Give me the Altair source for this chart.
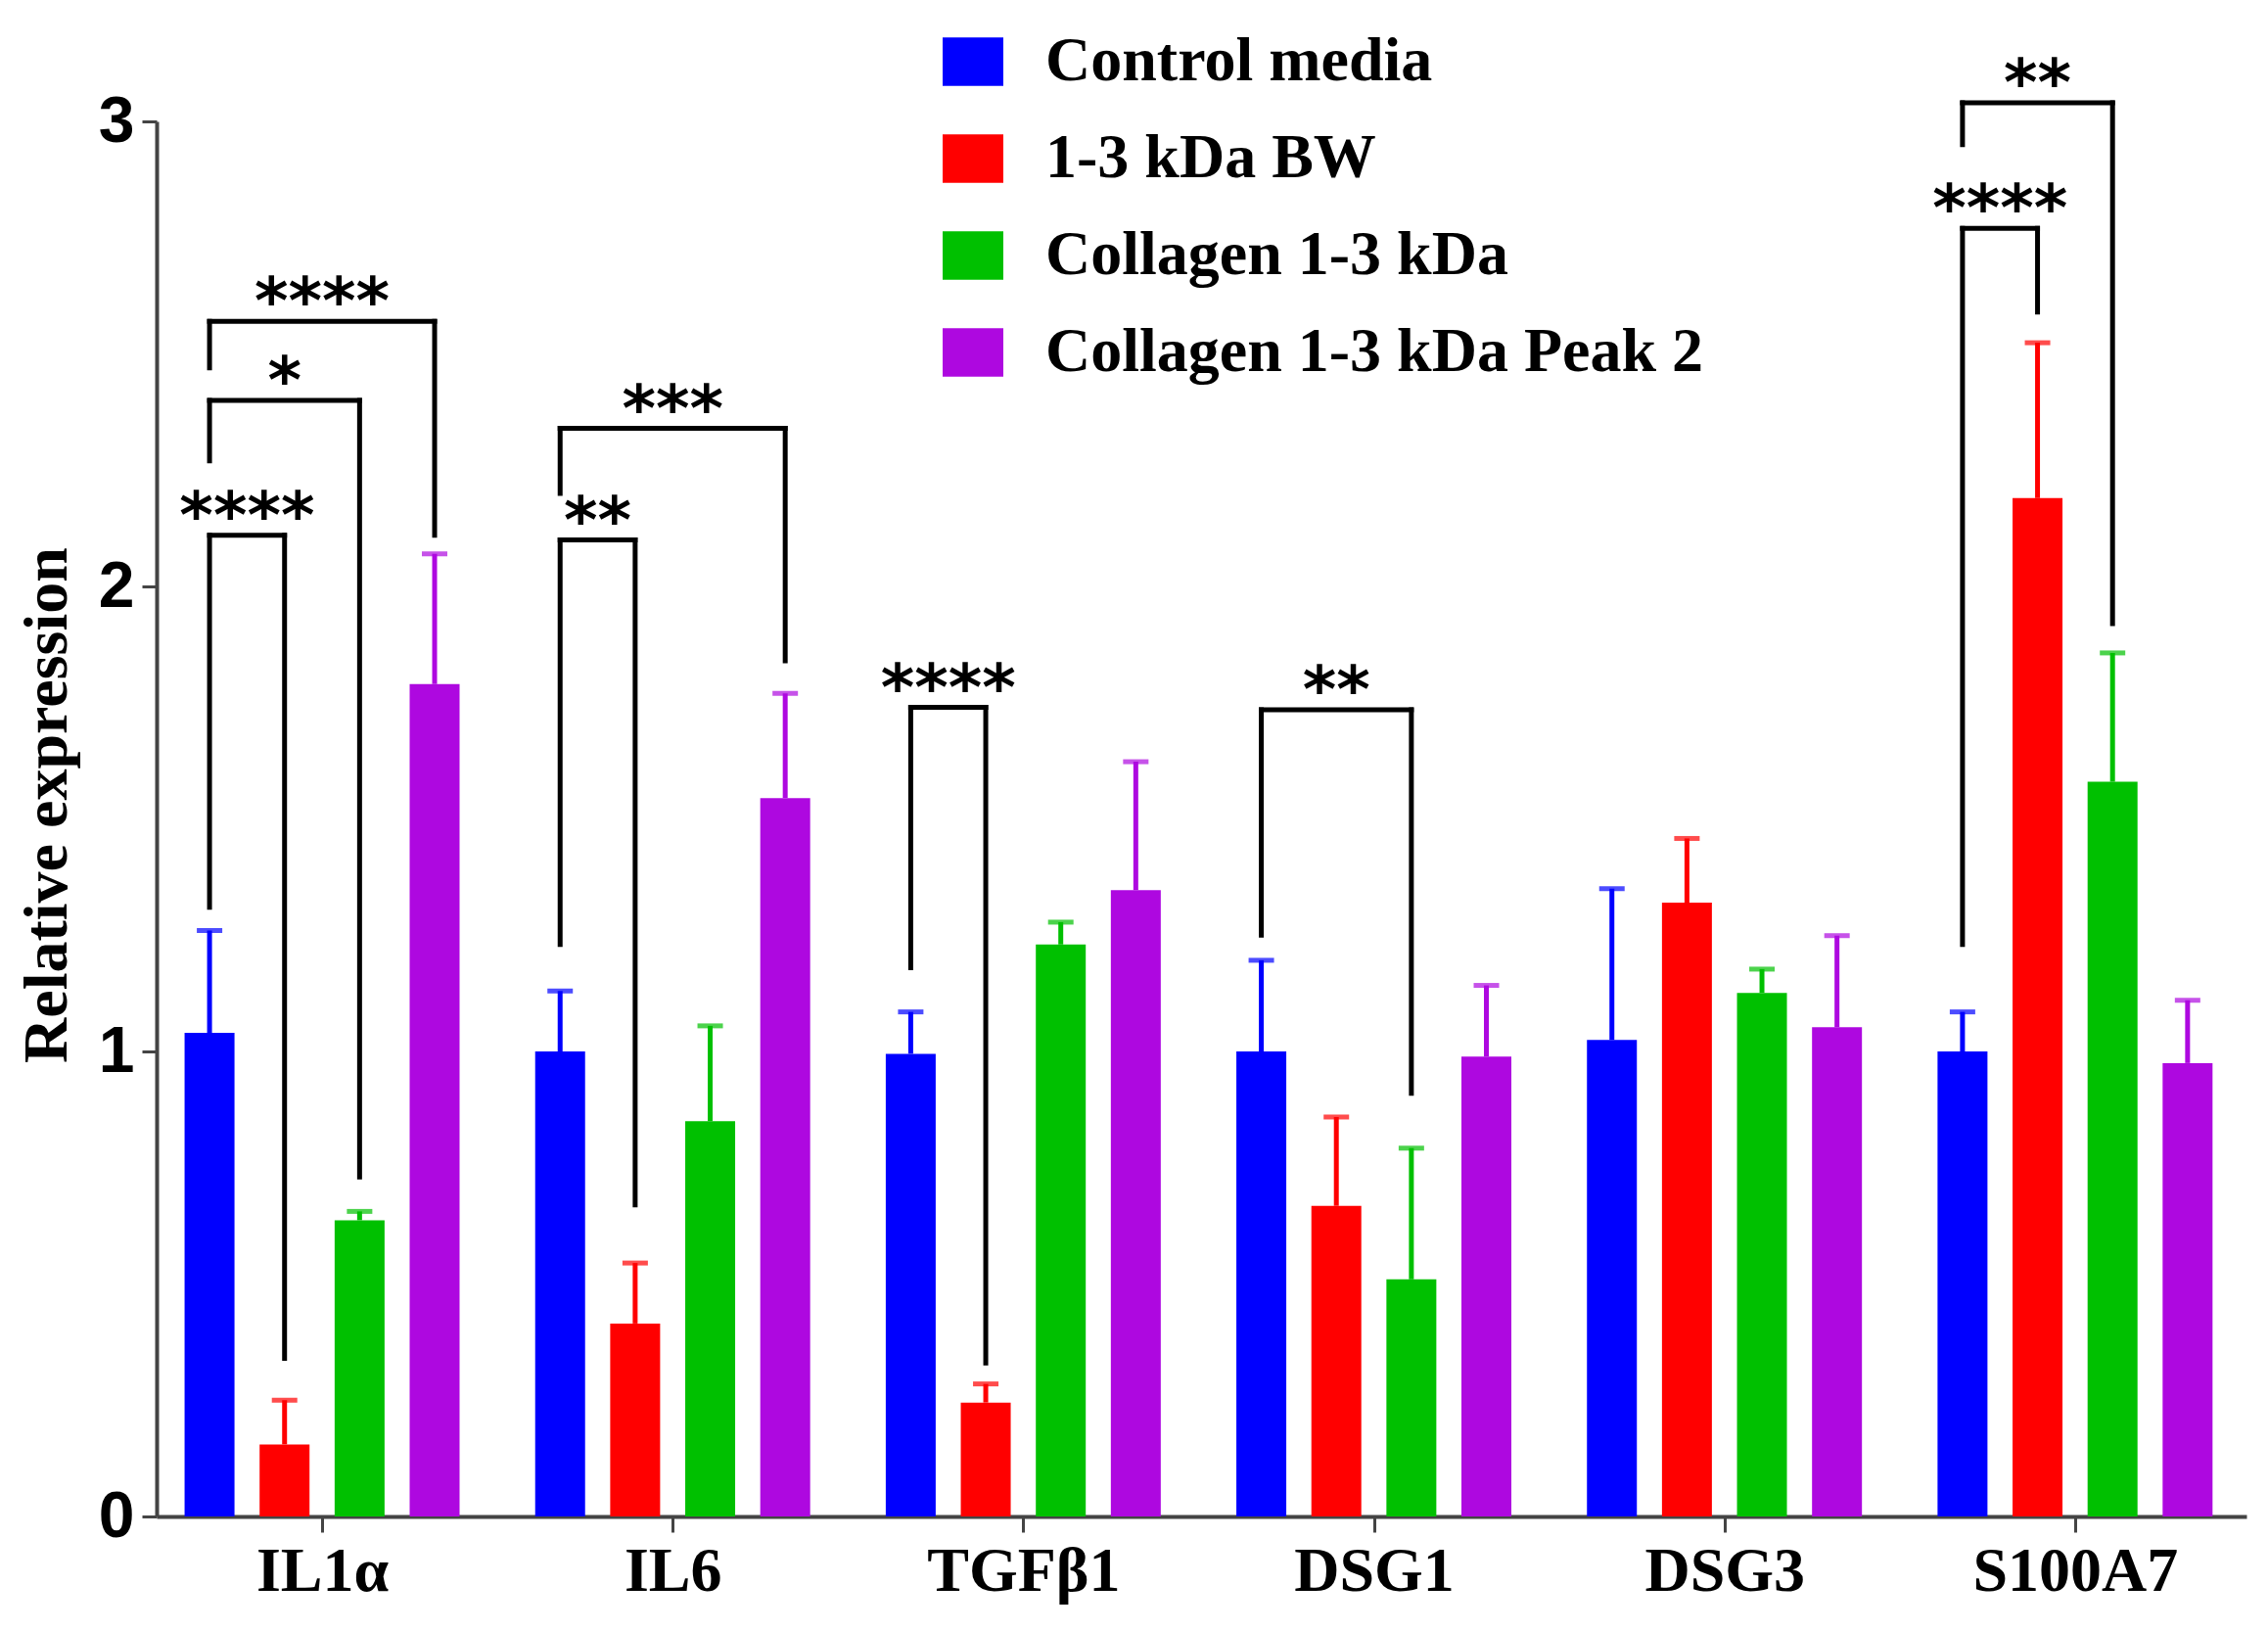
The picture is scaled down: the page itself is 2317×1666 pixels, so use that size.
import pandas as pd
import altair as alt

genes = ["IL1α", "IL6", "TGFβ1", "DSG1", "DSG3", "S100A7"]
treatments = ["Control media", "1-3 kDa BW", "Collagen 1-3 kDa", "Collagen 1-3 kDa Peak 2"]
colors = ["#0000FF", "#FF0000", "#00C000", "#AE08E0"]

# bar heights and tops of the (upper) error bars
control_mean = [1.04, 1.00, 0.995, 1.00, 1.025, 1.00]
control_top = [1.26, 1.13, 1.085, 1.196, 1.35, 1.085]
bw_mean = [0.155, 0.415, 0.245, 0.668, 1.32, 2.19]
bw_top = [0.25, 0.545, 0.285, 0.859, 1.458, 2.524]
collagen_mean = [0.637, 0.85, 1.23, 0.51, 1.126, 1.58]
collagen_top = [0.656, 1.055, 1.278, 0.792, 1.177, 1.857]
peak2_mean = [1.79, 1.545, 1.347, 0.989, 1.052, 0.975]
peak2_top = [2.07, 1.77, 1.623, 1.142, 1.249, 1.11]

# significance brackets: gene index, from/to treatment index, heights, label
bracket_gene = [0, 0, 0, 1, 1, 2, 3, 5, 5]
bracket_from = [0, 0, 0, 0, 0, 0, 0, 0, 0]
bracket_to = [1, 2, 3, 1, 3, 1, 2, 1, 2]
bracket_level = [2.11, 2.40, 2.57, 2.10, 2.34, 1.74, 1.735, 2.77, 3.04]
bracket_left_end = [1.31, 2.27, 2.47, 1.23, 2.20, 1.18, 1.25, 1.23, 2.95]
bracket_right_end = [0.34, 0.73, 2.11, 0.67, 1.84, 0.33, 0.91, 2.59, 1.92]
bracket_label = ["****", "*", "****", "**", "***", "****", "**", "****", "**"]

step = 0.214  # spacing between bars inside a group, in group units

rows = []
series = [(control_mean, control_top), (bw_mean, bw_top),
          (collagen_mean, collagen_top), (peak2_mean, peak2_top)]
for t, (means, tops) in enumerate(series):
    for g, gene in enumerate(genes):
        rows.append({"gene": gene, "treatment": treatments[t],
                     "pos": g + (t - 1.5) * step,
                     "mean": means[g], "top": tops[g]})
df = pd.DataFrame(rows)

br = pd.DataFrame({
    "x1": [g + (a - 1.5) * step for g, a in zip(bracket_gene, bracket_from)],
    "x2": [g + (b - 1.5) * step for g, b in zip(bracket_gene, bracket_to)],
    "level": bracket_level,
    "left_end": bracket_left_end,
    "right_end": bracket_right_end,
    "label": bracket_label,
})
br["mid"] = (br["x1"] + br["x2"]) / 2

xs = alt.Scale(domain=[-0.458, 5.475], nice=False, zero=False)
ys = alt.Scale(domain=[0, 3], nice=False)

x_axis = alt.Axis(
    values=list(range(len(genes))), labelExpr=f"{genes}[datum.value]",
    title=None, grid=False, tickSize=16, tickWidth=3, tickColor="#444444",
    domainColor="#444444", domainWidth=4, labelLimit=2000,
    labelFont="Liberation Serif", labelFontWeight="bold", labelFontSize=64,
    labelColor="black", labelPadding=8,
)
y_axis = alt.Axis(
    values=[0, 1, 2, 3], title="Relative expression", grid=False,
    titleFont="Liberation Serif", titleFontWeight="bold", titleFontSize=64,
    titleColor="black", titleX=-112, titleY=698, titleBaseline="middle",
    labelFont="Liberation Sans", labelFontWeight="bold", labelFontSize=66,
    labelColor="black", labelPadding=8, tickSize=15, tickWidth=3,
    tickColor="#444444", domainColor="#444444", domainWidth=4,
)


def X(field):
    return alt.X(field, scale=xs, axis=x_axis)


def Y(field):
    return alt.Y(field, scale=ys, axis=y_axis)


color = alt.Color(
    "treatment:N", scale=alt.Scale(domain=treatments, range=colors),
    legend=alt.Legend(
        title=None, orient="none", legendX=802, legendY=-93,
        direction="vertical", symbolType="M-1,-0.8H1V0.8H-1Z", symbolSize=3844,
        symbolStrokeWidth=0, symbolOpacity=1,
        labelFont="Liberation Serif", labelFontWeight="bold", labelFontSize=64,
        labelColor="black", labelOffset=42, rowPadding=35, labelLimit=1500,
    ),
)

bars = alt.Chart(df).mark_bar(size=51).encode(
    x=X("pos:Q"), y=Y("mean:Q"), color=color,
)

err = alt.Chart(df).mark_rule(strokeWidth=5).encode(
    x=X("pos:Q"), y=Y("mean:Q"), y2="top:Q", color=color,
)

caps = alt.Chart(df).mark_tick(orient="horizontal", size=26, thickness=5).encode(
    x=X("pos:Q"), y=Y("top:Q"), color=color,
)

line_style = dict(strokeWidth=5, color="black", strokeCap="square")

bracket_top = alt.Chart(br).mark_rule(**line_style).encode(
    x=X("x1:Q"), x2="x2:Q", y=Y("level:Q"),
)
bracket_left = alt.Chart(br).mark_rule(**line_style).encode(
    x=X("x1:Q"), y=Y("level:Q"), y2="left_end:Q",
)
bracket_right = alt.Chart(br).mark_rule(**line_style).encode(
    x=X("x2:Q"), y=Y("level:Q"), y2="right_end:Q",
)
stars = alt.Chart(br).mark_text(
    font="DejaVu Sans", fontWeight="bold", fontSize=66,
    baseline="alphabetic", dy=2, color="black",
).encode(
    x=X("mid:Q"), y=Y("level:Q"), text="label:N",
)

chart = alt.layer(
    bars, err, caps, bracket_top, bracket_left, bracket_right, stars
).properties(
    width=2135, height=1425,
    autosize=alt.AutoSizeParams(type="none"),
    padding={"left": 152, "top": 116, "right": 14, "bottom": 109},
).configure_view(stroke=None)

chart.save("out.html", embed_options={"renderer": "svg", "actions": False})
